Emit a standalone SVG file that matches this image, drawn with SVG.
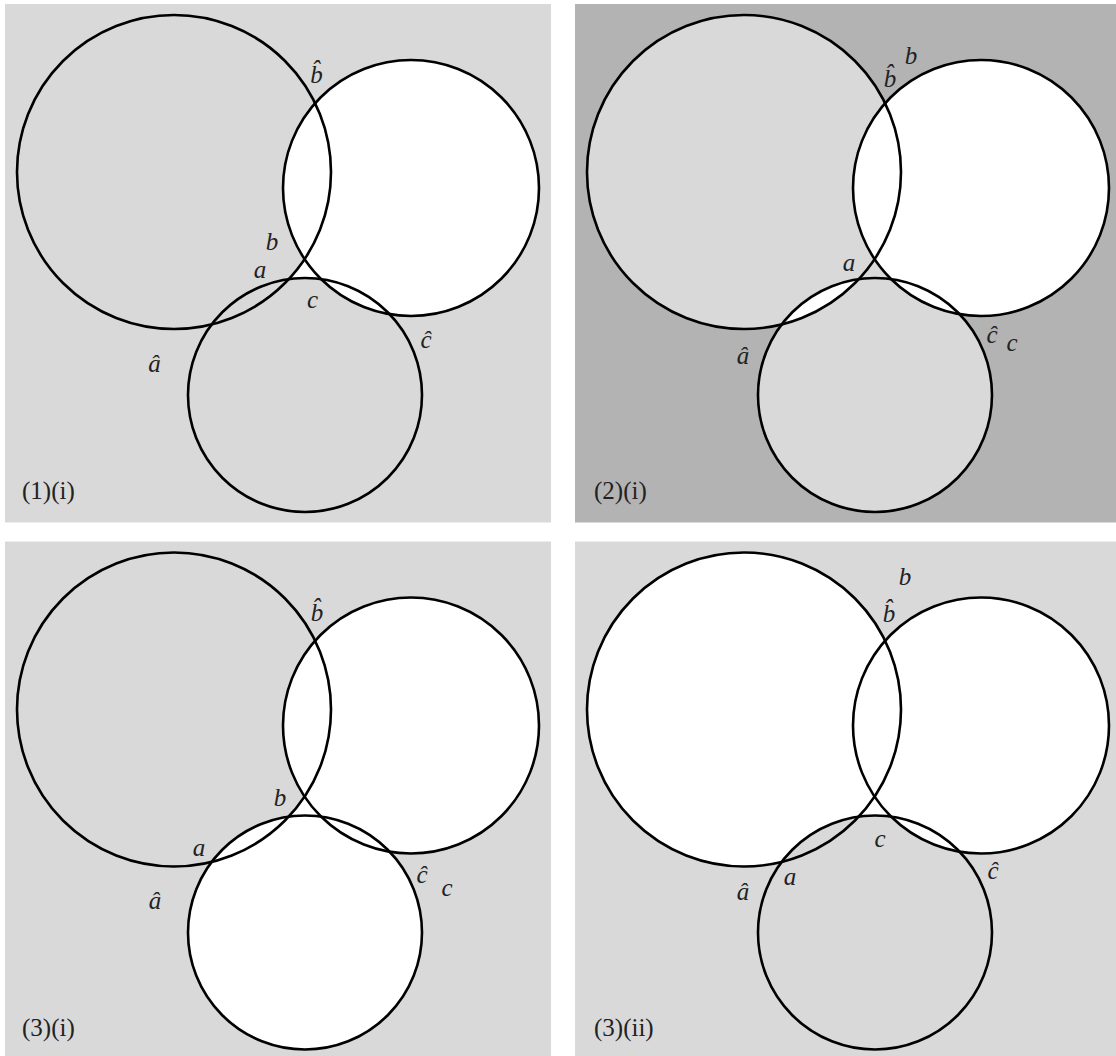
<svg xmlns="http://www.w3.org/2000/svg" width="1116" height="1056" viewBox="0 0 1116 1056">
<style>
.bgL{fill:#d9d9d9}
.bgD{fill:#b3b3b3}
.L{fill:#d9d9d9}
.W{fill:#ffffff}
.ring{fill:none;stroke:#000;stroke-width:2.6}
.lab{font-style:italic;font-size:25px;fill:#222;text-anchor:middle}
.cap{font-size:25px;fill:#222}
</style>
<defs>
<circle id="cA" cx="174" cy="172" r="157"/>
<circle id="cB" cx="411" cy="188" r="128"/>
<circle id="cC" cx="305" cy="395" r="117"/>
<path id="tri" d="M304.6,259.1 A157,157 0 0 1 288.76,279.14 A117,117 0 0 1 321.1,279.1 A128,128 0 0 1 304.6,259.1 Z"/>
<clipPath id="clipA" clipPathUnits="userSpaceOnUse"><circle cx="174" cy="172" r="157"/></clipPath>
<clipPath id="clipC" clipPathUnits="userSpaceOnUse"><circle cx="305" cy="395" r="117"/></clipPath>
</defs>

<g font-family="'Liberation Serif', 'Times New Roman', serif">
<g id="panel-1-i">
<rect class="bgL" x="5" y="4" width="546" height="518.5"/>
<use href="#cA" class="L"/>
<use href="#cC" class="L"/>
<use href="#cB" class="W"/>
<use href="#tri" class="W"/>
<g id="p1-rings">
<use href="#cA" class="ring"/>
<use href="#cB" class="ring"/>
<use href="#cC" class="ring"/>
</g>
<g id="p1-labels">
<text class="lab" x="316.5" y="83">b̂</text>
<text class="lab" x="272" y="250">b</text>
<text class="lab" x="260" y="278">a</text>
<text class="lab" x="312.5" y="308">c</text>
<text class="lab" x="154.5" y="372">â</text>
<text class="lab" x="426" y="348">ĉ</text>
<text class="cap" x="22" y="499">(1)(i)</text>
</g>
</g>

<g id="panel-2-i" transform="translate(570,0)">
<rect class="bgD" x="5" y="4" width="546" height="518.5"/>
<use href="#cA" class="L"/>
<use href="#cC" class="L"/>
<use href="#cB" class="W"/>
<use href="#cC" class="W" clip-path="url(#clipA)"/>
<use href="#tri" class="L"/>
<g id="p2-rings">
<use href="#cA" class="ring"/>
<use href="#cB" class="ring"/>
<use href="#cC" class="ring"/>
</g>
<g id="p2-labels">
<text class="lab" x="320" y="87">b̂</text>
<text class="lab" x="341" y="63.5">b</text>
<text class="lab" x="279" y="271">a</text>
<text class="lab" x="173" y="364">â</text>
<text class="lab" x="422" y="342.5">ĉ</text>
<text class="lab" x="442" y="351">c</text>
<text class="cap" x="24" y="499">(2)(i)</text>
</g>
</g>

<g id="panel-3-i" transform="translate(0,537.5)">
<rect class="bgL" x="5" y="4" width="546" height="518.5"/>
<use href="#cA" class="L"/>
<use href="#cC" class="W"/>
<use href="#cB" class="W"/>
<use href="#tri" class="W"/>
<g id="p3-rings">
<use href="#cA" class="ring"/>
<use href="#cB" class="ring"/>
<use href="#cC" class="ring"/>
</g>
<g id="p3-labels">
<text class="lab" x="317" y="83">b̂</text>
<text class="lab" x="280" y="268.5">b</text>
<text class="lab" x="199" y="318.5">a</text>
<text class="lab" x="155" y="371.5">â</text>
<text class="lab" x="422" y="345.5">ĉ</text>
<text class="lab" x="447" y="358.5">c</text>
<text class="cap" x="22" y="498.5">(3)(i)</text>
</g>
</g>

<g id="panel-3-ii" transform="translate(570,537.5)">
<rect class="bgL" x="5" y="4" width="546" height="518.5"/>
<use href="#cA" class="W"/>
<use href="#cB" class="W"/>
<use href="#cC" class="L"/>
<use href="#cB" class="W" clip-path="url(#clipC)"/>
<use href="#tri" class="W"/>
<g id="p4-rings">
<use href="#cA" class="ring"/>
<use href="#cB" class="ring"/>
<use href="#cC" class="ring"/>
</g>
<g id="p4-labels">
<text class="lab" x="335" y="47.5">b</text>
<text class="lab" x="319" y="84.5">b̂</text>
<text class="lab" x="310" y="309.5">c</text>
<text class="lab" x="220" y="347.5">a</text>
<text class="lab" x="173" y="362.5">â</text>
<text class="lab" x="423" y="341.5">ĉ</text>
<text class="cap" x="24" y="498.5">(3)(ii)</text>
</g>
</g>
</g>
</svg>
